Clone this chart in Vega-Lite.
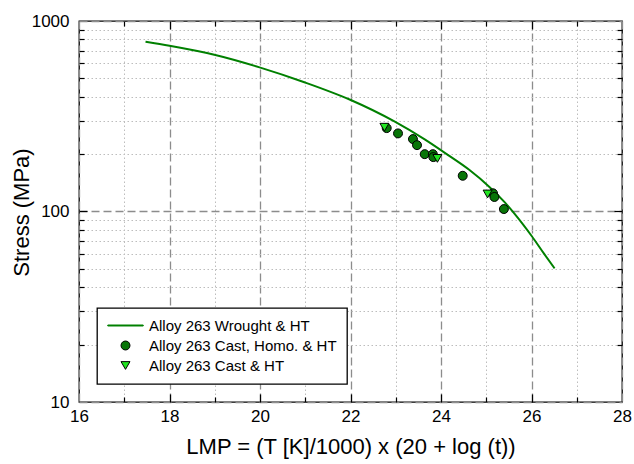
{
  "$schema": "https://vega.github.io/schema/vega-lite/v6.json",
  "width": 543,
  "height": 381,
  "autosize": {"type": "none"},
  "padding": {"left": 79, "top": 21, "right": 12, "bottom": 62},
  "background": "white",
  "config": {
    "view": {"stroke": "black", "strokeWidth": 1.3},
    "font": "Liberation Sans",
    "axis": {"domain": false, "labelFlush": false, "labelOverlap": false, "tickColor": "black", "tickWidth": 1.2, "labelColor": "black", "titleColor": "black", "labelFont": "Liberation Sans", "titleFont": "Liberation Sans", "titleFontWeight": "normal"},
    "legend": {"orient": "none", "legendX": 18, "legendY": 287, "padding": 10, "strokeColor": "black", "fillColor": "white", "cornerRadius": 0, "labelFontSize": 15, "labelFont": "Liberation Sans", "labelColor": "black", "labelLimit": 0, "symbolSize": 80, "symbolStrokeWidth": 1, "symbolOffset": 11, "labelOffset": 16, "rowPadding": 4, "strokeWidth": 1.3}
  },
  "datasets": {
    "curve": [
      {"lmp": 17.47, "stress": 778, "series": "Alloy 263 Wrought & HT"},
      {"lmp": 18.0, "stress": 741, "series": "Alloy 263 Wrought & HT"},
      {"lmp": 18.99, "stress": 665, "series": "Alloy 263 Wrought & HT"},
      {"lmp": 19.99, "stress": 571, "series": "Alloy 263 Wrought & HT"},
      {"lmp": 20.98, "stress": 477, "series": "Alloy 263 Wrought & HT"},
      {"lmp": 21.98, "stress": 387, "series": "Alloy 263 Wrought & HT"},
      {"lmp": 22.97, "stress": 297, "series": "Alloy 263 Wrought & HT"},
      {"lmp": 23.64, "stress": 239, "series": "Alloy 263 Wrought & HT"},
      {"lmp": 24.14, "stress": 199, "series": "Alloy 263 Wrought & HT"},
      {"lmp": 24.63, "stress": 165, "series": "Alloy 263 Wrought & HT"},
      {"lmp": 25.07, "stress": 134.6, "series": "Alloy 263 Wrought & HT"},
      {"lmp": 25.4, "stress": 112.3, "series": "Alloy 263 Wrought & HT"},
      {"lmp": 25.6, "stress": 99.0, "series": "Alloy 263 Wrought & HT"},
      {"lmp": 26.0, "stress": 74.6, "series": "Alloy 263 Wrought & HT"},
      {"lmp": 26.28, "stress": 59.9, "series": "Alloy 263 Wrought & HT"},
      {"lmp": 26.51, "stress": 50.3, "series": "Alloy 263 Wrought & HT"}
    ],
    "circles": [
      {"lmp": 22.8, "stress": 274, "series": "Alloy 263 Cast, Homo. & HT"},
      {"lmp": 23.05, "stress": 257, "series": "Alloy 263 Cast, Homo. & HT"},
      {"lmp": 23.38, "stress": 240, "series": "Alloy 263 Cast, Homo. & HT"},
      {"lmp": 23.47, "stress": 223, "series": "Alloy 263 Cast, Homo. & HT"},
      {"lmp": 23.64, "stress": 200, "series": "Alloy 263 Cast, Homo. & HT"},
      {"lmp": 23.82, "stress": 200, "series": "Alloy 263 Cast, Homo. & HT"},
      {"lmp": 23.83, "stress": 193, "series": "Alloy 263 Cast, Homo. & HT"},
      {"lmp": 24.48, "stress": 154, "series": "Alloy 263 Cast, Homo. & HT"},
      {"lmp": 25.15, "stress": 124.6, "series": "Alloy 263 Cast, Homo. & HT"},
      {"lmp": 25.18, "stress": 119.2, "series": "Alloy 263 Cast, Homo. & HT"},
      {"lmp": 25.39, "stress": 103, "series": "Alloy 263 Cast, Homo. & HT"}
    ],
    "triangles": [
      {"lmp": 22.75, "stress": 277, "series": "Alloy 263 Cast & HT"},
      {"lmp": 23.92, "stress": 190, "series": "Alloy 263 Cast & HT"},
      {"lmp": 25.03, "stress": 123.6, "series": "Alloy 263 Cast & HT"}
    ]
  },
  "resolve": {"axis": {"x": "independent", "y": "independent"}},
  "layer": [
    {
      "data": {"name": "curve"},
      "mark": {"type": "line", "strokeWidth": 2, "interpolate": "monotone"},
      "encoding": {
        "x": {"field": "lmp", "type": "quantitative", "scale": {"domain": [16, 28], "nice": false, "zero": false},
          "axis": {"orient": "bottom", "values": [17, 19, 21, 23, 25, 27], "labels": false, "title": null, "grid": true, "gridDash": [1.5, 2.5], "gridColor": "#bdbdbd", "gridWidth": 1, "tickSize": -5}},
        "y": {"field": "stress", "type": "quantitative", "scale": {"type": "log", "domain": [10, 1000], "nice": false},
          "axis": {"orient": "left", "values": [20, 30, 40, 50, 60, 70, 80, 90, 200, 300, 400, 500, 600, 700, 800, 900], "labels": false, "title": null, "grid": true, "gridDash": [1.5, 2.5], "gridColor": "#bdbdbd", "gridWidth": 1, "tickSize": -5}},
        "stroke": {"field": "series", "type": "nominal", "title": null,
          "scale": {"domain": ["Alloy 263 Wrought & HT", "Alloy 263 Cast, Homo. & HT", "Alloy 263 Cast & HT"], "range": ["#008000", "black", "black"]}}
      }
    },
    {
      "data": {"name": "circles"},
      "mark": {"type": "point", "filled": true, "size": 80, "strokeWidth": 1, "opacity": 1},
      "encoding": {
        "x": {"field": "lmp", "type": "quantitative",
          "axis": {"orient": "bottom", "values": [16, 18, 20, 22, 24, 26, 28], "title": "LMP = (T [K]/1000) x (20 + log (t))", "titleFontSize": 22, "titleY": 34, "titleBaseline": "top", "labelFontSize": 17, "labelPadding": 6, "ticks": false, "tickSize": 0, "grid": true, "gridDash": [8, 4], "gridColor": "#8c8c8c", "gridWidth": 1.3}},
        "y": {"field": "stress", "type": "quantitative",
          "axis": {"orient": "left", "values": [10, 100, 1000], "format": "d", "title": "Stress (MPa)", "titleFontSize": 22, "labelFontSize": 17, "labelPadding": 10, "ticks": false, "tickSize": 0, "titleX": -46, "titleY": 191, "grid": true, "gridDash": [8, 4], "gridColor": "#8c8c8c", "gridWidth": 1.3}},
        "fill": {"field": "series", "type": "nominal", "title": null,
          "scale": {"domain": ["Alloy 263 Wrought & HT", "Alloy 263 Cast, Homo. & HT", "Alloy 263 Cast & HT"], "range": ["#008000", "#087508", "#22e622"]}},
        "stroke": {"field": "series", "type": "nominal", "title": null},
        "shape": {"field": "series", "type": "nominal", "title": null,
          "scale": {"domain": ["Alloy 263 Wrought & HT", "Alloy 263 Cast, Homo. & HT", "Alloy 263 Cast & HT"], "range": ["M-3.96,-0.11L3.96,-0.11L3.96,0.11L-3.96,0.11Z", "circle", "triangle-down"]}}
      }
    },
    {
      "data": {"name": "triangles"},
      "mark": {"type": "point", "filled": true, "size": 80, "strokeWidth": 1, "opacity": 1},
      "encoding": {
        "x": {"field": "lmp", "type": "quantitative",
          "axis": {"orient": "top", "values": [17, 19, 21, 23, 25, 27], "labels": false, "title": null, "grid": false, "tickSize": -5}},
        "y": {"field": "stress", "type": "quantitative",
          "axis": {"orient": "right", "values": [20, 30, 40, 50, 60, 70, 80, 90, 200, 300, 400, 500, 600, 700, 800, 900], "labels": false, "title": null, "grid": false, "tickSize": -5}},
        "fill": {"field": "series", "type": "nominal", "title": null},
        "stroke": {"field": "series", "type": "nominal", "title": null},
        "shape": {"field": "series", "type": "nominal", "title": null}
      }
    },
    {
      "data": {"name": "triangles"},
      "mark": {"type": "point", "opacity": 0},
      "encoding": {
        "x": {"field": "lmp", "type": "quantitative",
          "axis": {"orient": "top", "values": [18, 20, 22, 24, 26], "labels": false, "title": null, "grid": false, "tickSize": -8}},
        "y": {"field": "stress", "type": "quantitative",
          "axis": {"orient": "right", "values": [100], "labels": false, "title": null, "grid": false, "tickSize": -8}}
      }
    },
    {
      "data": {"name": "circles"},
      "mark": {"type": "point", "opacity": 0},
      "encoding": {
        "x": {"field": "lmp", "type": "quantitative",
          "axis": {"orient": "bottom", "values": [18, 20, 22, 24, 26], "labels": false, "title": null, "grid": false, "tickSize": -8}},
        "y": {"field": "stress", "type": "quantitative",
          "axis": {"orient": "left", "values": [100], "labels": false, "title": null, "grid": false, "tickSize": -8}}
      }
    }
  ]
}
